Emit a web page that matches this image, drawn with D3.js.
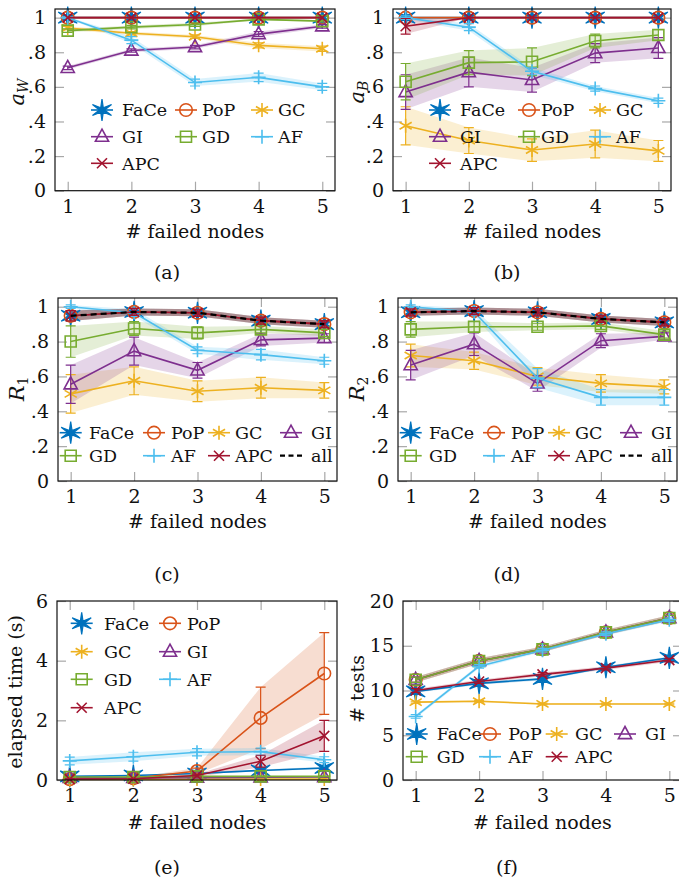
<!DOCTYPE html>
<html>
<head>
<meta charset="utf-8">
<script src="https://cdn.jsdelivr.net/npm/d3@7"></script>
<style>
  body { margin: 0; background: #fff; }
  svg { display: block; }
  text { font-family: "DejaVu Serif", serif; fill: #111; }
</style>
</head>
<body>
<svg id="chart" width="679" height="881"></svg>
<script>
(function(){
    'use strict';

    const failed = [1, 2, 3, 4, 5];
    const methods = ['FaCe', 'PoP', 'GC', 'GI', 'GD', 'AF', 'APC'];
    const colours = ['#0072BD', '#D95319', '#EDB120', '#7E2F8E', '#77AC30', '#4DBEEE', '#A2142F'];

    // (a) a_W
    const aW = {
        FaCe: [1, 1, 1, 1, 1],
        PoP:  [1, 1, 1, 1, 1],
        GC:   [0.94, 0.91, 0.89, 0.84, 0.82],
        GI:   [0.71, 0.81, 0.83, 0.905, 0.95],
        GD:   [0.925, 0.945, 0.96, 0.99, 0.98],
        AF:   [1.0, 0.87, 0.625, 0.655, 0.60],
        APC:  [1, 1, 1, 1, 1]
    };
    const aWErr = {
        FaCe: [0, 0, 0, 0, 0],
        PoP:  [0, 0, 0, 0, 0],
        GC:   [0.01, 0.01, 0.01, 0.015, 0.015],
        GI:   [0.01, 0.01, 0.01, 0.015, 0.01],
        GD:   [0.01, 0.01, 0.01, 0.005, 0.005],
        AF:   [0.005, 0.02, 0.02, 0.025, 0.02],
        APC:  [0, 0, 0, 0, 0]
    };

    // (b) a_B
    const aB = {
        FaCe: [1, 1, 1, 1, 1],
        PoP:  [1, 1, 1, 1, 1],
        GC:   [0.375, 0.29, 0.235, 0.27, 0.23],
        GI:   [0.57, 0.685, 0.64, 0.795, 0.825],
        GD:   [0.63, 0.74, 0.745, 0.865, 0.90],
        AF:   [1.0, 0.945, 0.69, 0.59, 0.52],
        APC:  [0.95, 1, 1, 1, 1]
    };
    const aBErr = {
        FaCe: [0, 0, 0, 0, 0],
        PoP:  [0, 0, 0, 0, 0],
        GC:   [0.11, 0.075, 0.065, 0.08, 0.06],
        GI:   [0.1, 0.085, 0.07, 0.055, 0.06],
        GD:   [0.105, 0.07, 0.08, 0.04, 0.03],
        AF:   [0.01, 0.02, 0.02, 0.015, 0.015],
        APC:  [0.045, 0, 0, 0, 0]
    };

    // (c) R_1
    const r1 = {
        FaCe: [0.948, 0.97, 0.965, 0.92, 0.90],
        PoP:  [0.948, 0.97, 0.965, 0.92, 0.90],
        GC:   [0.50, 0.575, 0.515, 0.535, 0.52],
        GI:   [0.555, 0.745, 0.635, 0.81, 0.82],
        GD:   [0.80, 0.875, 0.85, 0.87, 0.85],
        AF:   [1.0, 0.965, 0.75, 0.725, 0.69],
        APC:  [0.948, 0.97, 0.965, 0.92, 0.90],
        all:  [0.948, 0.97, 0.965, 0.92, 0.90]
    };
    const r1Err = {
        FaCe: [0.03, 0.02, 0.02, 0.02, 0.02],
        PoP:  [0.03, 0.02, 0.02, 0.02, 0.02],
        GC:   [0.11, 0.08, 0.06, 0.06, 0.045],
        GI:   [0.11, 0.08, 0.045, 0.035, 0.025],
        GD:   [0.09, 0.04, 0.035, 0.02, 0.02],
        AF:   [0.01, 0.02, 0.02, 0.03, 0.02],
        APC:  [0.03, 0.02, 0.02, 0.02, 0.02],
        all:  [0.03, 0.02, 0.02, 0.02, 0.02]
    };

    // (d) R_2
    const r2 = {
        FaCe: [0.968, 0.975, 0.968, 0.93, 0.91],
        PoP:  [0.968, 0.975, 0.968, 0.93, 0.91],
        GC:   [0.72, 0.69, 0.60, 0.56, 0.54],
        GI:   [0.665, 0.785, 0.56, 0.805, 0.83],
        GD:   [0.87, 0.885, 0.885, 0.89, 0.84],
        AF:   [1.0, 0.97, 0.59, 0.48, 0.48],
        APC:  [0.968, 0.975, 0.968, 0.93, 0.91],
        all:  [0.968, 0.975, 0.968, 0.93, 0.91]
    };
    const r2Err = {
        FaCe: [0.02, 0.02, 0.02, 0.02, 0.02],
        PoP:  [0.02, 0.02, 0.02, 0.02, 0.02],
        GC:   [0.065, 0.05, 0.05, 0.05, 0.04],
        GI:   [0.085, 0.065, 0.045, 0.04, 0.02],
        GD:   [0.045, 0.03, 0.02, 0.02, 0.02],
        AF:   [0.01, 0.02, 0.055, 0.045, 0.045],
        APC:  [0.02, 0.02, 0.02, 0.02, 0.02],
        all:  [0.02, 0.02, 0.02, 0.02, 0.02]
    };

    // (e) elapsed time (s)
    const elapsed = {
        FaCe: [0.12, 0.15, 0.22, 0.32, 0.40],
        PoP:  [0.03, 0.06, 0.30, 2.08, 3.57],
        GC:   [0.02, 0.02, 0.03, 0.03, 0.03],
        GI:   [0.07, 0.07, 0.08, 0.09, 0.10],
        GD:   [0.10, 0.10, 0.12, 0.12, 0.12],
        AF:   [0.64, 0.78, 0.93, 0.95, 0.68],
        APC:  [0.03, 0.04, 0.15, 0.63, 1.48]
    };
    const elapsedErr = {
        FaCe: [0.02, 0.02, 0.03, 0.03, 0.04],
        PoP:  [0.01, 0.02, 0.1, 1.03, 1.37],
        GC:   [0.005, 0.005, 0.005, 0.005, 0.005],
        GI:   [0.01, 0.01, 0.01, 0.01, 0.01],
        GD:   [0.01, 0.01, 0.01, 0.01, 0.01],
        AF:   [0.13, 0.15, 0.12, 0.12, 0.1],
        APC:  [0.01, 0.01, 0.05, 0.2, 0.52]
    };

    // (f) # tests
    const tests = {
        FaCe: [9.9, 10.8, 11.3, 12.6, 13.65],
        PoP:  [11.2, 13.3, 14.6, 16.5, 18.1],
        GC:   [8.7, 8.8, 8.5, 8.5, 8.5],
        GI:   [11.2, 13.3, 14.6, 16.5, 18.1],
        GD:   [11.2, 13.3, 14.6, 16.5, 18.1],
        AF:   [7.1, 12.7, 14.5, 16.35, 17.9],
        APC:  [10.0, 11.0, 11.8, 12.5, 13.4]
    };
    const testsErr = {
        FaCe: [0.15, 0.15, 0.15, 0.15, 0.15],
        PoP:  [0.3, 0.3, 0.3, 0.3, 0.3],
        GC:   [0.1, 0.1, 0.1, 0.1, 0.1],
        GI:   [0.3, 0.3, 0.3, 0.3, 0.3],
        GD:   [0.3, 0.3, 0.3, 0.3, 0.3],
        AF:   [0.2, 0.2, 0.2, 0.2, 0.2],
        APC:  [0.2, 0.2, 0.2, 0.2, 0.2]
    };

    const ratioTicks = [0, 0.2, 0.4, 0.6, 0.8, 1];
    const timeTicks = [0, 2, 4, 6];
    const testTicks = [0, 5, 10, 15, 20];

    const style = {
        FaCe: {colour: colours[0], mark: 'star'},
        PoP:  {colour: colours[1], mark: 'circle'},
        GC:   {colour: colours[2], mark: 'asterisk'},
        GI:   {colour: colours[3], mark: 'triangle'},
        GD:   {colour: colours[4], mark: 'square'},
        AF:   {colour: colours[5], mark: 'plus'},
        APC:  {colour: colours[6], mark: 'cross'},
        all:  {colour: '#000', mark: null, dash: '6,4'}
    };

    function markPath(type) {
        const p = d3.path();
        if (type === 'star') {
            for (let i = 0; i < 12; i++) {
                const a = -Math.PI / 2 + i * Math.PI / 6;
                const r = i % 2 ? 2.6 : 11;
                if (i === 0) p.moveTo(r * Math.cos(a), r * Math.sin(a));
                else p.lineTo(r * Math.cos(a), r * Math.sin(a));
            }
            p.closePath();
        } else if (type === 'circle') {
            p.arc(0, 0, 6.3, 0, 2 * Math.PI);
        } else if (type === 'square') {
            p.rect(-5.5, -5.5, 11, 11);
        } else if (type === 'triangle') {
            p.moveTo(0, -7.5); p.lineTo(6.6, 4.6); p.lineTo(-6.6, 4.6); p.closePath();
        } else if (type === 'plus') {
            p.moveTo(-7, 0); p.lineTo(7, 0); p.moveTo(0, -7); p.lineTo(0, 7);
        } else if (type === 'cross') {
            p.moveTo(-5, -5); p.lineTo(5, 5); p.moveTo(-5, 5); p.lineTo(5, -5);
        } else if (type === 'asterisk') {
            for (let i = 0; i < 3; i++) {
                const a = Math.PI / 2 + i * Math.PI / 3;
                p.moveTo(7 * Math.cos(a), 7 * Math.sin(a));
                p.lineTo(-7 * Math.cos(a), -7 * Math.sin(a));
            }
        }
        return p.toString();
    }

    function drawMark(g, name, cx, cy) {
        const s = style[name];
        g.append('path')
            .attr('d', markPath(s.mark))
            .attr('transform', `translate(${cx},${cy})`)
            .attr('fill', s.mark === 'star' ? s.colour : 'none')
            .attr('stroke', s.colour)
            .attr('stroke-linejoin', 'miter')
            .attr('stroke-width', s.mark === 'star' ? 1.2 : 1.6);
    }

    const ratioFormat = d => d === 0 ? '0' : d === 1 ? '1' : d3.format('.1f')(d).replace(/^0/, '');

    const rowLegend = [['FaCe', 0, 0], ['PoP', 0, 1], ['GC', 0, 2], ['GI', 1, 0], ['GD', 1, 1], ['AF', 1, 2], ['APC', 2, 0]];
    const wideLegend = [['FaCe', 0, 0], ['PoP', 0, 1], ['GC', 0, 2], ['GI', 0, 3], ['GD', 1, 0], ['AF', 1, 1], ['APC', 1, 2], ['all', 1, 3]];
    const testLegend = [['FaCe', 0, 0], ['PoP', 0, 1], ['GC', 0, 2], ['GI', 0, 3], ['GD', 1, 0], ['AF', 1, 1], ['APC', 1, 2]];
    const timeLegend = [['FaCe', 0, 0], ['PoP', 0, 1], ['GC', 1, 0], ['GI', 1, 1], ['GD', 2, 0], ['AF', 2, 1], ['APC', 3, 0]];

    const panels = [
        {mean: aW, err: aWErr, left: 55, right: 335, top: 9, bottom: 190.7, ymax: 1.05, ticks: ratioTicks, fmt: ratioFormat,
         ylab: ['a', 'W', true], ylabX: 17, ylabY: 92, cap: '(a)', capX: 167, capY: 279, xlabY: 238,
         legend: {items: rowLegend, rows: [101, 127.7, 154.3], marks: [47, 131, 207], texts: [67, 147, 223]}},
        {mean: aB, err: aBErr, left: 393, right: 671, top: 9, bottom: 190.7, ymax: 1.05, ticks: ratioTicks, fmt: ratioFormat,
         ylab: ['a', 'B', true], ylabX: 357, ylabY: 92, cap: '(b)', capX: 507, capY: 279, xlabY: 238,
         legend: {items: rowLegend, rows: [101, 127.7, 154.3], marks: [47, 136, 207], texts: [67, 148, 223]}},
        {mean: r1, err: r1Err, left: 58, right: 337, top: 298, bottom: 481, ymax: 1.05, ticks: ratioTicks, fmt: ratioFormat,
         ylab: ['R', '1', false], ylabX: 17, ylabY: 389, cap: '(c)', capX: 167, capY: 581, xlabY: 528,
         legend: {items: wideLegend, rows: [134.7, 157.7], marks: [12.7, 96, 161, 233], texts: [31, 113, 177, 253]}},
        {mean: r2, err: r2Err, left: 398, right: 677, top: 298, bottom: 481, ymax: 1.05, ticks: ratioTicks, fmt: ratioFormat,
         ylab: ['R', '2', false], ylabX: 357, ylabY: 389, cap: '(d)', capX: 507, capY: 581, xlabY: 528,
         legend: {items: wideLegend, rows: [134.7, 157.7], marks: [12.7, 96, 161, 233], texts: [31, 113, 177, 253]}},
        {mean: elapsed, err: elapsedErr, left: 57, right: 337, top: 601, bottom: 780, ymax: 6, ticks: timeTicks, fmt: d3.format('d'),
         ylab: ['elapsed time (s)'], ylabX: 15, ylabY: 692, cap: '(e)', capX: 167, capY: 874, xlabY: 829,
         legend: {items: timeLegend, rows: [22.3, 50.7, 78.3, 106.7], marks: [24.7, 113], texts: [47, 130]}},
        {mean: tests, err: testsErr, left: 403, right: 682, top: 601, bottom: 780, ymax: 20, ticks: testTicks, fmt: d3.format('d'),
         ylab: ['# tests'], ylabX: 357, ylabY: 689, cap: '(f)', capX: 507, capY: 874, xlabY: 829,
         legend: {items: testLegend, rows: [133, 155.7], marks: [13.7, 87, 153.7, 222], texts: [33.7, 105.3, 172, 242]}}
    ];

    const svg = d3.select('#chart');

    panels.forEach((P, pi) => {
        const x = d3.scaleLinear().domain([0.8, 5.2]).range([P.left, P.right]);
        const y = d3.scaleLinear().domain([0, P.ymax]).range([P.bottom, P.top]);
        const g = svg.append('g');
        const names = Object.keys(P.mean);

        const clipId = 'clip' + pi;
        svg.append('clipPath').attr('id', clipId)
            .append('rect').attr('x', P.left).attr('y', P.top)
            .attr('width', P.right - P.left).attr('height', P.bottom - P.top);

        // ticks (inside, grey, on all four sides)
        const tickCol = '#a8a8a8';
        const xb = g.append('g').attr('transform', `translate(0,${P.bottom})`)
            .call(d3.axisBottom(x).tickValues(failed).tickSize(-9).tickPadding(9).tickFormat(d3.format('d')));
        const xt = g.append('g').attr('transform', `translate(0,${P.top})`)
            .call(d3.axisTop(x).tickValues(failed).tickSize(-9).tickFormat(''));
        const yl = g.append('g').attr('transform', `translate(${P.left},0)`)
            .call(d3.axisLeft(y).tickValues(P.ticks).tickSize(-9).tickPadding(9).tickFormat(P.fmt));
        const yr = g.append('g').attr('transform', `translate(${P.right},0)`)
            .call(d3.axisRight(y).tickValues(P.ticks).tickSize(-9).tickFormat(''));
        [xb, xt, yl, yr].forEach(a => {
            a.select('.domain').remove();
            a.selectAll('line').attr('stroke', tickCol).attr('stroke-width', 1.2);
            a.selectAll('text').style('font-size', '19px').attr('fill', '#111');
        });

        // bands
        const bands = g.append('g').attr('clip-path', `url(#${clipId})`);
        names.forEach(n => {
            const pts = failed.map((f, i) => ({f: f, m: P.mean[n][i], e: P.err[n][i]}));
            bands.append('path')
                .datum(pts)
                .attr('d', d3.area().x(d => x(d.f)).y0(d => y(d.m - d.e)).y1(d => y(d.m + d.e)))
                .attr('fill', style[n].colour)
                .attr('fill-opacity', n === 'all' ? 0.12 : 0.2);
        });

        // lines, error bars, markers
        names.forEach(n => {
            const s = style[n];
            const pts = failed.map((f, i) => ({f: f, m: P.mean[n][i], e: P.err[n][i]}));
            g.append('path')
                .datum(pts)
                .attr('d', d3.line().x(d => x(d.f)).y(d => y(d.m)))
                .attr('fill', 'none')
                .attr('stroke', s.colour)
                .attr('stroke-width', s.dash ? 2.2 : 1.6)
                .attr('stroke-dasharray', s.dash || null);
            if (!s.mark) return;
            pts.forEach(d => {
                if (d.e > 0.004) {
                    const lo = y(d.m - d.e), hi = y(d.m + d.e), cx = x(d.f);
                    g.append('path')
                        .attr('d', `M${cx},${lo}V${hi}M${cx - 5},${lo}H${cx + 5}M${cx - 5},${hi}H${cx + 5}`)
                        .attr('fill', 'none')
                        .attr('stroke', s.colour)
                        .attr('stroke-width', 1.2);
                }
                drawMark(g, n, x(d.f), y(d.m));
            });
        });

        // frame
        g.append('rect')
            .attr('x', P.left).attr('y', P.top)
            .attr('width', P.right - P.left).attr('height', P.bottom - P.top)
            .attr('fill', 'none').attr('stroke', '#111').attr('stroke-width', 1.2);

        // legend
        const L = P.legend;
        L.items.forEach(([n, r, c]) => {
            const s = style[n];
            const ly = P.top + L.rows[r];
            const mx = P.left + L.marks[c];
            g.append('line')
                .attr('x1', mx - 11).attr('x2', mx + 11).attr('y1', ly).attr('y2', ly)
                .attr('stroke', s.colour)
                .attr('stroke-width', s.dash ? 2.2 : 1.6)
                .attr('stroke-dasharray', s.dash ? '5,3.5' : null);
            if (s.mark) drawMark(g, n, mx, ly);
            g.append('text')
                .attr('x', P.left + L.texts[c]).attr('y', ly)
                .attr('dy', '0.36em')
                .style('font-size', '17.5px')
                .text(n);
        });

        // axis labels
        g.append('text')
            .attr('x', (P.left + P.right) / 2).attr('y', P.xlabY)
            .attr('text-anchor', 'middle')
            .style('font-size', '19px')
            .text('# failed nodes');

        const yt = g.append('text')
            .attr('transform', `translate(${P.ylabX},${P.ylabY}) rotate(-90)`)
            .attr('text-anchor', 'middle')
            .attr('dy', '0.35em')
            .style('font-size', '19px');
        if (P.ylab.length === 1) {
            yt.text(P.ylab[0]);
        } else {
            yt.append('tspan').style('font-style', 'italic').style('font-size', '21px').text(P.ylab[0]);
            yt.append('tspan').attr('dy', '0.3em').style('font-size', '14px')
                .style('font-style', P.ylab[2] ? 'italic' : 'normal').text(P.ylab[1]);
        }

        g.append('text')
            .attr('x', P.capX).attr('y', P.capY)
            .attr('text-anchor', 'middle')
            .style('font-size', '19px')
            .text(P.cap);
    });

})();
</script>
</body>
</html>
